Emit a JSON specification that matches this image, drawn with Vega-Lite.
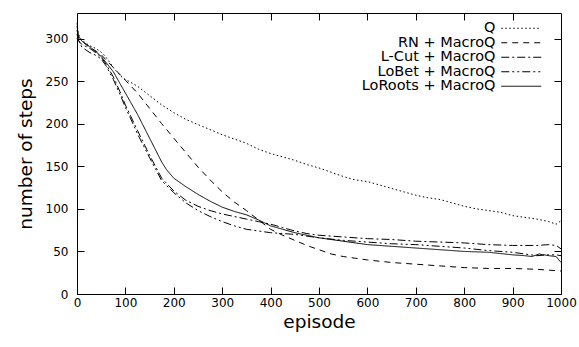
{
  "$schema": "https://vega.github.io/schema/vega-lite/v6.json",
  "width": 484,
  "height": 281,
  "autosize": {"type": "none"},
  "padding": {"left": 77, "top": 13, "right": 18, "bottom": 53},
  "background": "white",
  "config": {
    "font": "DejaVu Sans",
    "view": {"stroke": "black", "strokeWidth": 1},
    "axis": {
      "grid": false,
      "domain": false,
      "tickColor": "black",
      "tickSize": -7,
      "labelColor": "black",
      "titleColor": "black",
      "labelFont": "DejaVu Sans",
      "titleFont": "DejaVu Sans",
      "labelFontSize": 12,
      "titleFontSize": 18.5,
      "titleFontWeight": "normal"
    }
  },
  "datasets": {
    "curves": [
      {"series": "Q", "episode": 0, "steps": 318}, {"series": "Q", "episode": 3, "steps": 305}, {"series": "Q", "episode": 10, "steps": 298}, {"series": "Q", "episode": 25, "steps": 292}, {"series": "Q", "episode": 40, "steps": 288}, {"series": "Q", "episode": 50, "steps": 284}, {"series": "Q", "episode": 60, "steps": 278}, {"series": "Q", "episode": 75, "steps": 266}, {"series": "Q", "episode": 90, "steps": 256}, {"series": "Q", "episode": 100, "steps": 252}, {"series": "Q", "episode": 125, "steps": 244}, {"series": "Q", "episode": 150, "steps": 233}, {"series": "Q", "episode": 175, "steps": 222}, {"series": "Q", "episode": 200, "steps": 213}, {"series": "Q", "episode": 225, "steps": 205}, {"series": "Q", "episode": 250, "steps": 199}, {"series": "Q", "episode": 275, "steps": 193}, {"series": "Q", "episode": 300, "steps": 187}, {"series": "Q", "episode": 325, "steps": 182}, {"series": "Q", "episode": 350, "steps": 177}, {"series": "Q", "episode": 375, "steps": 170}, {"series": "Q", "episode": 400, "steps": 165}, {"series": "Q", "episode": 425, "steps": 161}, {"series": "Q", "episode": 450, "steps": 157}, {"series": "Q", "episode": 475, "steps": 152}, {"series": "Q", "episode": 500, "steps": 148}, {"series": "Q", "episode": 525, "steps": 143}, {"series": "Q", "episode": 550, "steps": 138}, {"series": "Q", "episode": 575, "steps": 134}, {"series": "Q", "episode": 600, "steps": 132}, {"series": "Q", "episode": 625, "steps": 128}, {"series": "Q", "episode": 650, "steps": 124}, {"series": "Q", "episode": 675, "steps": 120}, {"series": "Q", "episode": 700, "steps": 116}, {"series": "Q", "episode": 725, "steps": 113}, {"series": "Q", "episode": 750, "steps": 111}, {"series": "Q", "episode": 775, "steps": 107}, {"series": "Q", "episode": 800, "steps": 103}, {"series": "Q", "episode": 825, "steps": 100}, {"series": "Q", "episode": 850, "steps": 98}, {"series": "Q", "episode": 875, "steps": 96}, {"series": "Q", "episode": 900, "steps": 92}, {"series": "Q", "episode": 925, "steps": 90}, {"series": "Q", "episode": 950, "steps": 88}, {"series": "Q", "episode": 975, "steps": 85}, {"series": "Q", "episode": 990, "steps": 82}, {"series": "Q", "episode": 1000, "steps": 86},

      {"series": "RN + MacroQ", "episode": 0, "steps": 305}, {"series": "RN + MacroQ", "episode": 3, "steps": 300}, {"series": "RN + MacroQ", "episode": 10, "steps": 297}, {"series": "RN + MacroQ", "episode": 25, "steps": 290}, {"series": "RN + MacroQ", "episode": 40, "steps": 285}, {"series": "RN + MacroQ", "episode": 50, "steps": 281}, {"series": "RN + MacroQ", "episode": 60, "steps": 275}, {"series": "RN + MacroQ", "episode": 75, "steps": 266}, {"series": "RN + MacroQ", "episode": 90, "steps": 257}, {"series": "RN + MacroQ", "episode": 100, "steps": 251}, {"series": "RN + MacroQ", "episode": 125, "steps": 236}, {"series": "RN + MacroQ", "episode": 150, "steps": 218}, {"series": "RN + MacroQ", "episode": 175, "steps": 200}, {"series": "RN + MacroQ", "episode": 200, "steps": 183}, {"series": "RN + MacroQ", "episode": 225, "steps": 166}, {"series": "RN + MacroQ", "episode": 250, "steps": 149}, {"series": "RN + MacroQ", "episode": 275, "steps": 134}, {"series": "RN + MacroQ", "episode": 300, "steps": 120}, {"series": "RN + MacroQ", "episode": 325, "steps": 108}, {"series": "RN + MacroQ", "episode": 350, "steps": 98}, {"series": "RN + MacroQ", "episode": 375, "steps": 87}, {"series": "RN + MacroQ", "episode": 400, "steps": 76}, {"series": "RN + MacroQ", "episode": 425, "steps": 69}, {"series": "RN + MacroQ", "episode": 450, "steps": 63}, {"series": "RN + MacroQ", "episode": 475, "steps": 57}, {"series": "RN + MacroQ", "episode": 500, "steps": 52}, {"series": "RN + MacroQ", "episode": 525, "steps": 47}, {"series": "RN + MacroQ", "episode": 550, "steps": 44}, {"series": "RN + MacroQ", "episode": 575, "steps": 42}, {"series": "RN + MacroQ", "episode": 600, "steps": 40}, {"series": "RN + MacroQ", "episode": 650, "steps": 37}, {"series": "RN + MacroQ", "episode": 700, "steps": 35}, {"series": "RN + MacroQ", "episode": 750, "steps": 33}, {"series": "RN + MacroQ", "episode": 800, "steps": 31}, {"series": "RN + MacroQ", "episode": 850, "steps": 30}, {"series": "RN + MacroQ", "episode": 900, "steps": 30}, {"series": "RN + MacroQ", "episode": 950, "steps": 29}, {"series": "RN + MacroQ", "episode": 1000, "steps": 27},

      {"series": "L-Cut + MacroQ", "episode": 0, "steps": 300}, {"series": "L-Cut + MacroQ", "episode": 5, "steps": 296}, {"series": "L-Cut + MacroQ", "episode": 10, "steps": 293}, {"series": "L-Cut + MacroQ", "episode": 25, "steps": 289}, {"series": "L-Cut + MacroQ", "episode": 40, "steps": 283}, {"series": "L-Cut + MacroQ", "episode": 50, "steps": 278}, {"series": "L-Cut + MacroQ", "episode": 60, "steps": 270}, {"series": "L-Cut + MacroQ", "episode": 75, "steps": 255}, {"series": "L-Cut + MacroQ", "episode": 90, "steps": 236}, {"series": "L-Cut + MacroQ", "episode": 100, "steps": 222}, {"series": "L-Cut + MacroQ", "episode": 110, "steps": 210}, {"series": "L-Cut + MacroQ", "episode": 125, "steps": 192}, {"series": "L-Cut + MacroQ", "episode": 150, "steps": 163}, {"series": "L-Cut + MacroQ", "episode": 175, "steps": 136}, {"series": "L-Cut + MacroQ", "episode": 200, "steps": 121}, {"series": "L-Cut + MacroQ", "episode": 225, "steps": 110}, {"series": "L-Cut + MacroQ", "episode": 250, "steps": 103}, {"series": "L-Cut + MacroQ", "episode": 275, "steps": 98}, {"series": "L-Cut + MacroQ", "episode": 300, "steps": 94}, {"series": "L-Cut + MacroQ", "episode": 325, "steps": 91}, {"series": "L-Cut + MacroQ", "episode": 350, "steps": 88}, {"series": "L-Cut + MacroQ", "episode": 375, "steps": 85}, {"series": "L-Cut + MacroQ", "episode": 400, "steps": 82}, {"series": "L-Cut + MacroQ", "episode": 425, "steps": 78}, {"series": "L-Cut + MacroQ", "episode": 450, "steps": 74}, {"series": "L-Cut + MacroQ", "episode": 475, "steps": 71}, {"series": "L-Cut + MacroQ", "episode": 500, "steps": 69}, {"series": "L-Cut + MacroQ", "episode": 550, "steps": 67}, {"series": "L-Cut + MacroQ", "episode": 600, "steps": 65}, {"series": "L-Cut + MacroQ", "episode": 650, "steps": 64}, {"series": "L-Cut + MacroQ", "episode": 700, "steps": 62}, {"series": "L-Cut + MacroQ", "episode": 750, "steps": 61}, {"series": "L-Cut + MacroQ", "episode": 800, "steps": 60}, {"series": "L-Cut + MacroQ", "episode": 850, "steps": 58}, {"series": "L-Cut + MacroQ", "episode": 900, "steps": 57}, {"series": "L-Cut + MacroQ", "episode": 950, "steps": 57}, {"series": "L-Cut + MacroQ", "episode": 975, "steps": 58}, {"series": "L-Cut + MacroQ", "episode": 990, "steps": 57}, {"series": "L-Cut + MacroQ", "episode": 1000, "steps": 53},

      {"series": "LoBet + MacroQ", "episode": 0, "steps": 310}, {"series": "LoBet + MacroQ", "episode": 5, "steps": 296}, {"series": "LoBet + MacroQ", "episode": 10, "steps": 290}, {"series": "LoBet + MacroQ", "episode": 25, "steps": 284}, {"series": "LoBet + MacroQ", "episode": 40, "steps": 280}, {"series": "LoBet + MacroQ", "episode": 50, "steps": 276}, {"series": "LoBet + MacroQ", "episode": 60, "steps": 268}, {"series": "LoBet + MacroQ", "episode": 75, "steps": 252}, {"series": "LoBet + MacroQ", "episode": 90, "steps": 233}, {"series": "LoBet + MacroQ", "episode": 100, "steps": 219}, {"series": "LoBet + MacroQ", "episode": 110, "steps": 207}, {"series": "LoBet + MacroQ", "episode": 125, "steps": 188}, {"series": "LoBet + MacroQ", "episode": 150, "steps": 160}, {"series": "LoBet + MacroQ", "episode": 175, "steps": 133}, {"series": "LoBet + MacroQ", "episode": 200, "steps": 119}, {"series": "LoBet + MacroQ", "episode": 225, "steps": 107}, {"series": "LoBet + MacroQ", "episode": 250, "steps": 98}, {"series": "LoBet + MacroQ", "episode": 275, "steps": 91}, {"series": "LoBet + MacroQ", "episode": 300, "steps": 85}, {"series": "LoBet + MacroQ", "episode": 325, "steps": 80}, {"series": "LoBet + MacroQ", "episode": 350, "steps": 76}, {"series": "LoBet + MacroQ", "episode": 375, "steps": 74}, {"series": "LoBet + MacroQ", "episode": 400, "steps": 72}, {"series": "LoBet + MacroQ", "episode": 450, "steps": 70}, {"series": "LoBet + MacroQ", "episode": 500, "steps": 66}, {"series": "LoBet + MacroQ", "episode": 550, "steps": 63}, {"series": "LoBet + MacroQ", "episode": 600, "steps": 61}, {"series": "LoBet + MacroQ", "episode": 650, "steps": 59}, {"series": "LoBet + MacroQ", "episode": 700, "steps": 58}, {"series": "LoBet + MacroQ", "episode": 750, "steps": 56}, {"series": "LoBet + MacroQ", "episode": 800, "steps": 54}, {"series": "LoBet + MacroQ", "episode": 850, "steps": 51}, {"series": "LoBet + MacroQ", "episode": 900, "steps": 49}, {"series": "LoBet + MacroQ", "episode": 925, "steps": 47}, {"series": "LoBet + MacroQ", "episode": 950, "steps": 45}, {"series": "LoBet + MacroQ", "episode": 975, "steps": 46}, {"series": "LoBet + MacroQ", "episode": 990, "steps": 46}, {"series": "LoBet + MacroQ", "episode": 1000, "steps": 45},

      {"series": "LoRoots + MacroQ", "episode": 0, "steps": 315}, {"series": "LoRoots + MacroQ", "episode": 3, "steps": 303}, {"series": "LoRoots + MacroQ", "episode": 10, "steps": 297}, {"series": "LoRoots + MacroQ", "episode": 25, "steps": 291}, {"series": "LoRoots + MacroQ", "episode": 40, "steps": 284}, {"series": "LoRoots + MacroQ", "episode": 50, "steps": 279}, {"series": "LoRoots + MacroQ", "episode": 60, "steps": 272}, {"series": "LoRoots + MacroQ", "episode": 75, "steps": 261}, {"series": "LoRoots + MacroQ", "episode": 90, "steps": 246}, {"series": "LoRoots + MacroQ", "episode": 100, "steps": 236}, {"series": "LoRoots + MacroQ", "episode": 110, "steps": 226}, {"series": "LoRoots + MacroQ", "episode": 125, "steps": 211}, {"series": "LoRoots + MacroQ", "episode": 150, "steps": 183}, {"series": "LoRoots + MacroQ", "episode": 175, "steps": 155}, {"series": "LoRoots + MacroQ", "episode": 185, "steps": 146}, {"series": "LoRoots + MacroQ", "episode": 200, "steps": 136}, {"series": "LoRoots + MacroQ", "episode": 225, "steps": 126}, {"series": "LoRoots + MacroQ", "episode": 250, "steps": 117}, {"series": "LoRoots + MacroQ", "episode": 275, "steps": 109}, {"series": "LoRoots + MacroQ", "episode": 300, "steps": 102}, {"series": "LoRoots + MacroQ", "episode": 325, "steps": 97}, {"series": "LoRoots + MacroQ", "episode": 350, "steps": 93}, {"series": "LoRoots + MacroQ", "episode": 375, "steps": 87}, {"series": "LoRoots + MacroQ", "episode": 400, "steps": 80}, {"series": "LoRoots + MacroQ", "episode": 425, "steps": 76}, {"series": "LoRoots + MacroQ", "episode": 450, "steps": 72}, {"series": "LoRoots + MacroQ", "episode": 475, "steps": 69}, {"series": "LoRoots + MacroQ", "episode": 500, "steps": 66}, {"series": "LoRoots + MacroQ", "episode": 550, "steps": 62}, {"series": "LoRoots + MacroQ", "episode": 600, "steps": 58}, {"series": "LoRoots + MacroQ", "episode": 650, "steps": 56}, {"series": "LoRoots + MacroQ", "episode": 700, "steps": 54}, {"series": "LoRoots + MacroQ", "episode": 750, "steps": 52}, {"series": "LoRoots + MacroQ", "episode": 800, "steps": 50}, {"series": "LoRoots + MacroQ", "episode": 850, "steps": 49}, {"series": "LoRoots + MacroQ", "episode": 900, "steps": 46}, {"series": "LoRoots + MacroQ", "episode": 925, "steps": 45}, {"series": "LoRoots + MacroQ", "episode": 940, "steps": 44}, {"series": "LoRoots + MacroQ", "episode": 955, "steps": 47}, {"series": "LoRoots + MacroQ", "episode": 975, "steps": 45}, {"series": "LoRoots + MacroQ", "episode": 990, "steps": 44}, {"series": "LoRoots + MacroQ", "episode": 1000, "steps": 37}
    ]
  },
  "data": {"name": "curves"},
  "layer": [
    {
      "mark": {"type": "line", "color": "black", "strokeWidth": 1},
      "encoding": {
        "x": {
          "field": "episode", "type": "quantitative",
          "scale": {"domain": [0, 1000], "nice": false},
          "axis": {"orient": "bottom", "title": "episode", "format": "d", "values": [0, 100, 200, 300, 400, 500, 600, 700, 800, 900, 1000], "labelPadding": 10, "titlePadding": 4, "labelFlush": false}
        },
        "y": {
          "field": "steps", "type": "quantitative",
          "scale": {"domain": [0, 330], "nice": false},
          "axis": {"orient": "left", "title": "number of steps", "values": [0, 50, 100, 150, 200, 250, 300], "labelPadding": 16, "titlePadding": 10}
        },
        "strokeDash": {
          "field": "series", "type": "nominal",
          "scale": {
            "domain": ["Q", "RN + MacroQ", "L-Cut + MacroQ", "LoBet + MacroQ", "LoRoots + MacroQ"],
            "range": [[1.5, 2.5], [6, 5], [8, 3, 2, 3], [8, 3, 2, 3, 2, 3], [1, 0]]
          },
          "legend": {
            "title": null,
            "orient": "none",
            "legendX": 437,
            "legendY": 8,
            "padding": 0,
            "symbolType": "M-4,0H4",
            "symbolSize": 100,
            "symbolStrokeWidth": 1,
            "symbolStrokeColor": "black",
            "symbolFillColor": "transparent",
            "labelAlign": "right",
            "labelOffset": -33,
            "labelFont": "DejaVu Sans",
            "labelFontSize": 14.5,
            "labelColor": "black",
            "labelLimit": 0,
            "rowPadding": -0.5
          }
        }
      }
    },
    {
      "mark": {"type": "line", "opacity": 0},
      "encoding": {
        "x": {"field": "episode", "type": "quantitative", "axis": {"orient": "top", "title": null, "labels": false, "values": [100, 200, 300, 400, 500, 600, 700, 800, 900]}},
        "y": {"field": "steps", "type": "quantitative", "axis": {"orient": "right", "title": null, "labels": false, "values": [50, 100, 150, 200, 250, 300]}},
        "detail": {"field": "series"}
      }
    }
  ],
  "resolve": {"axis": {"x": "independent", "y": "independent"}}
}
